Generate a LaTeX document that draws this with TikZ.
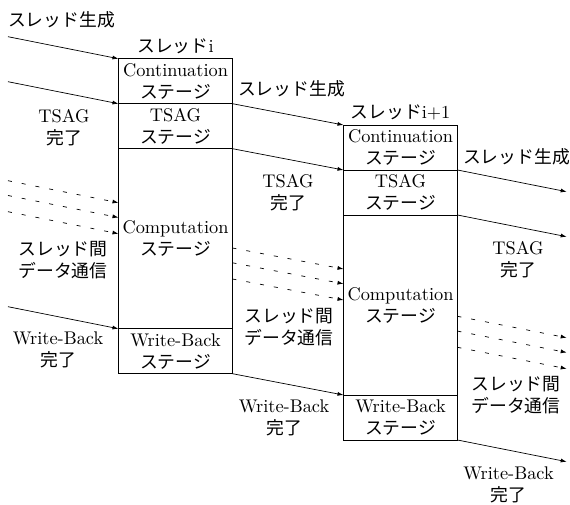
\documentclass[tikz,border=0pt]{standalone}
\usepackage{fontspec}
\setmainfont{lmroman10-regular.otf}[Scale=1.03]
\newfontfamily\jp{Noto Sans CJK JP}
\usetikzlibrary{arrows.meta}
\begin{document}
\begin{tikzpicture}[x=1pt,y=-1pt,
  every node/.style={font=\fontsize{17.8}{22}\selectfont, inner sep=0pt, outer sep=0pt, align=center},
  stage/.style={draw, line width=0.8pt, minimum width=114pt, anchor=north west},
  arr/.style={-{Latex[length=6pt,width=4pt]}, line width=0.7pt},
  darr/.style={arr, dash pattern=on 4pt off 10pt}]
\useasboundingbox (0,0) rectangle (570,504);
% thread i
\node[stage, minimum height=45pt] (c1) at (118.5,58.7) {Continuation\\{\jp ステージ}};
\node[stage, minimum height=45pt] (t1) at (c1.south west) {TSAG\\{\jp ステージ}};
\node[stage, minimum height=180pt] (p1) at (t1.south west) {Computation\\{\jp ステージ}};
\node[stage, minimum height=45pt] (w1) at (p1.south west) {Write-Back\\{\jp ステージ}};
% thread i+1
\node[stage, minimum height=45pt] (c2) at (343.5,125) {Continuation\\{\jp ステージ}};
\node[stage, minimum height=45pt] (t2) at (c2.south west) {TSAG\\{\jp ステージ}};
\node[stage, minimum height=180pt] (p2) at (t2.south west) {Computation\\{\jp ステージ}};
\node[stage, minimum height=45pt] (w2) at (p2.south west) {Write-Back\\{\jp ステージ}};
% titles
\node (h1) at (175.5,46) {{\jp スレッド}i};
\node (h2) at (400.5,112.5) {{\jp スレッド}i+1};
% labels
\node (g0) at (61.5,20) {\jp スレッド生成};
\node (g1) at (291.5,89) {\jp スレッド生成};
\node (g2) at (516.5,156.5) {\jp スレッド生成};
\node (a0) at (64,128) {TSAG\\{\jp 完了}};
\node (a1) at (288,193) {TSAG\\{\jp 完了}};
\node (a2) at (518,260) {TSAG\\{\jp 完了}};
\node (d0) at (63,260) {\jp スレッド間\\\jp データ通信};
\node (d1) at (289,327) {\jp スレッド間\\\jp データ通信};
\node (d2) at (516,395) {\jp スレッド間\\\jp データ通信};
\node (b0) at (58,350) {Write-Back\\{\jp 完了}};
\node (b1) at (284,418) {Write-Back\\{\jp 完了}};
\node (b2) at (508.5,485) {Write-Back\\{\jp 完了}};
% free ends
\coordinate (s0) at (8,36.7);
\coordinate (s1) at (8,81.7);
\coordinate (s2) at (8,306.7);
\coordinate (q0) at (8,180.7);
\coordinate (q1) at (8,195.5);
\coordinate (q2) at (8,211.7);
\coordinate (e0) at (566.7,191.7);
\coordinate (e1) at (566.7,236.7);
\coordinate (e2) at (566.7,461.7);
\coordinate (r0) at (566.7,337.7);
\coordinate (r1) at (566.7,352.5);
\coordinate (r2) at (566.7,368.7);
% arrows into thread i
\draw[arr] (s0) -- (c1.north west);
\draw[arr] (s1) -- (t1.north west);
\draw[arr] (s2) -- (w1.north west);
\draw[darr] (q0) -- ([yshift=-54pt]p1.north west);
\draw[darr] (q1) -- ([yshift=-68.8pt]p1.north west);
\draw[darr] (q2) -- ([yshift=-85pt]p1.north west);
% thread i -> thread i+1
\draw[arr] (t1.north east) -- (c2.north west);
\draw[arr] (p1.north east) -- (t2.north west);
\draw[arr] (w1.south east) -- (w2.north west);
\draw[darr] ([yshift=-99.3pt]p1.north east) -- ([yshift=-54pt]p2.north west);
\draw[darr] ([yshift=-114.1pt]p1.north east) -- ([yshift=-68.8pt]p2.north west);
\draw[darr] ([yshift=-130.3pt]p1.north east) -- ([yshift=-85pt]p2.north west);
% out of thread i+1
\draw[arr] (t2.north east) -- (e0);
\draw[arr] (p2.north east) -- (e1);
\draw[arr] (w2.south east) -- (e2);
\draw[darr] ([yshift=-101.3pt]p2.north east) -- (r0);
\draw[darr] ([yshift=-116.1pt]p2.north east) -- (r1);
\draw[darr] ([yshift=-132.3pt]p2.north east) -- (r2);
\end{tikzpicture}
\end{document}
